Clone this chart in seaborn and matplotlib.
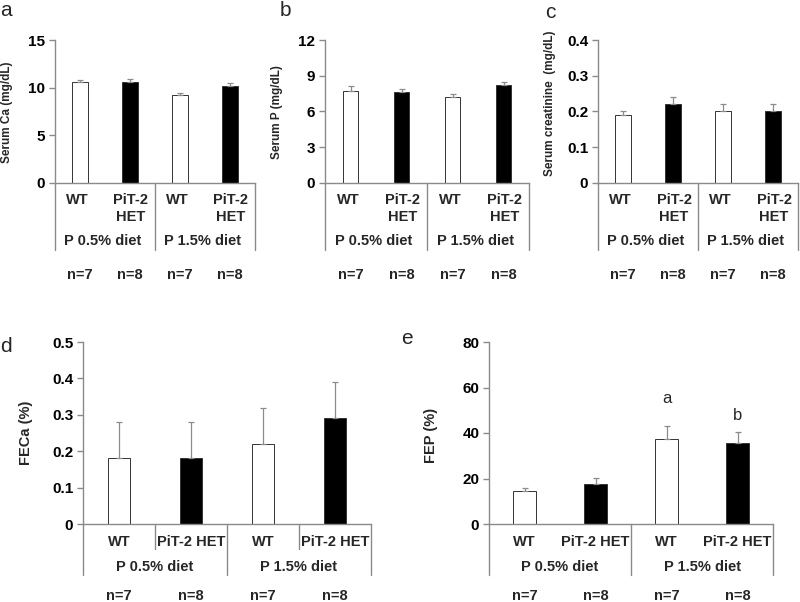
import numpy as np
import pandas as pd
import matplotlib
matplotlib.use("Agg")
import matplotlib.pyplot as plt
import matplotlib.transforms as mtransforms
import seaborn as sns

sns.set_theme(style="white")
plt.rcParams['font.family'] = ['Liberation Sans', 'DejaVu Sans']

# ---- data ----
genotypes = ["WT", "PiT-2 HET", "WT", "PiT-2 HET"]
diets = ["P 0.5% diet", "P 1.5% diet"]
n_labels = ["n=7", "n=8", "n=7", "n=8"]

ca_vals = [10.6, 10.6, 9.2, 10.2]
ca_errs = [0.2, 0.3, 0.2, 0.25]
p_vals = [7.7, 7.6, 7.2, 8.2]
p_errs = [0.4, 0.3, 0.3, 0.3]
cre_vals = [0.19, 0.22, 0.20, 0.20]
cre_errs = [0.01, 0.02, 0.02, 0.02]
feca_vals = [0.18, 0.18, 0.22, 0.29]
feca_errs = [0.10, 0.10, 0.10, 0.10]
fep_vals = [14.3, 17.5, 37.3, 35.7]
fep_errs = [1.6, 2.8, 5.9, 4.9]
fep_letters = ["", "", "a", "b"]
fep_letter_y = [0, 0, 55, 47.5]

W, H = 800, 602
fig = plt.figure(figsize=(W / 100, H / 100), dpi=100)
fig.patch.set_facecolor("white")

AX_GRAY = "#8a8a8a"
ERR_GRAY = "#8c8c8c"
fills = ["white", "black", "white", "black"]


def fy(py):
    return 1 - py / H


def panel(left, right, top, bottom, vals, errs, ylim, yticks, yticklabels,
          ylabel, ylabel_xy, ylabel_size, letter, letter_xy, row):
    ax = fig.add_axes([left / W, fy(bottom), (right - left) / W, (bottom - top) / H])
    ids = ["c0", "c1", "c2", "c3"]
    df = pd.DataFrame({"id": ids, "val": vals})
    sns.barplot(data=df, x="id", y="val", hue="id", palette=fills, legend=False,
                width=0.31, edgecolor="#333333", linewidth=0.7, ax=ax,
                order=ids, hue_order=ids)
    ax.errorbar(range(4), vals, yerr=[np.zeros(4), errs], fmt="none",
                ecolor=ERR_GRAY, elinewidth=0.9, capsize=2.5, capthick=0.9, zorder=1)
    ax.set_xlim(-0.5, 3.5)
    ax.set_ylim(*ylim)
    ax.set_yticks(yticks)
    ax.set_yticklabels(yticklabels, fontsize=11, fontweight="bold")
    ax.set_xticks([])
    ax.set_xlabel("")
    ax.set_ylabel(ylabel, fontsize=ylabel_size, fontweight="bold")
    ax.yaxis.set_label_coords(ylabel_xy[0] / W, fy(ylabel_xy[1]), transform=fig.transFigure)
    for s in ["top", "right"]:
        ax.spines[s].set_visible(False)
    for s in ["left", "bottom"]:
        ax.spines[s].set_color(AX_GRAY)
        ax.spines[s].set_linewidth(1.0)
    ax.tick_params(axis="y", direction="out", length=4, width=1.0, color=AX_GRAY,
                   left=True, pad=3, labelcolor="black")
    ax.set_facecolor("white")

    tr = mtransforms.blended_transform_factory(ax.transData, fig.transFigure)
    if row == 0:
        fs = 10.5
        for i, g in enumerate(genotypes):
            if g == "WT":
                ax.text(i - 0.05, fy(200), "WT", transform=tr, ha="center", va="center",
                        fontsize=fs, fontweight="bold")
            else:
                top_word, bottom_word = g.split(" ")
                ax.text(i + 0.02, fy(200), top_word, transform=tr, ha="center", va="center",
                        fontsize=fs, fontweight="bold")
                ax.text(i + 0.02, fy(217), bottom_word, transform=tr, ha="center",
                        va="center", fontsize=fs, fontweight="bold")
        for j, d in enumerate(diets):
            ax.text(0.45 + 2 * j, fy(241), d, transform=tr, ha="center", va="center",
                    fontsize=fs, fontweight="bold")
        for i, n in enumerate(n_labels):
            ax.text(i, fy(275), n, transform=tr, ha="center", va="center",
                    fontsize=fs, fontweight="bold")
        for xd in [-0.5, 1.5, 3.5]:
            ax.plot([xd, xd], [fy(bottom), fy(250)], transform=tr, color=AX_GRAY,
                    lw=1.0, clip_on=False)
    else:
        fs = 10.5
        for i, g in enumerate(genotypes):
            ax.text(i, fy(542), g, transform=tr, ha="center", va="center",
                    fontsize=fs, fontweight="bold")
        for j, d in enumerate(diets):
            ax.text(0.5 + 2 * j, fy(567), d, transform=tr, ha="center", va="center",
                    fontsize=fs, fontweight="bold")
        for i, n in enumerate(n_labels):
            ax.text(i, fy(596), n, transform=tr, ha="center", va="center",
                    fontsize=fs, fontweight="bold")
        for xd in [-0.5, 1.5, 3.5]:
            ax.plot([xd, xd], [fy(bottom), fy(575)], transform=tr, color=AX_GRAY,
                    lw=1.0, clip_on=False)
    fig.text(letter_xy[0] / W, fy(letter_xy[1]), letter, fontsize=15,
             ha="left", va="center")
    return ax, tr


panel(55, 255, 40, 183, ca_vals, ca_errs, (0, 15), [0, 5, 10, 15],
      ["0", "5", "10", "15"], "Serum Ca (mg/dL)", (13, 112), 8.5, "a", (0, 11), 0)
panel(325, 529, 40, 183, p_vals, p_errs, (0, 12), [0, 3, 6, 9, 12],
      ["0", "3", "6", "9", "12"], "Serum P (mg/dL)", (283, 112), 8.5, "b", (280, 10), 0)
panel(598, 798, 40, 183, cre_vals, cre_errs, (0, 0.4), [0, 0.1, 0.2, 0.3, 0.4],
      ["0", "0.1", "0.2", "0.3", "0.4"], "Serum creatinine  (mg/dL)", (556, 103), 8.5,
      "c", (545, 12), 0)
axd, trd = panel(83, 371, 342, 524, feca_vals, feca_errs, (0, 0.5),
                 [0, 0.1, 0.2, 0.3, 0.4, 0.5],
                 ["0", "0.1", "0.2", "0.3", "0.4", "0.5"], "FECa (%)", (33, 433), 10.5,
                 "d", (0, 347), 1)
for xd in [0.5, 2.5]:
    axd.plot([xd, xd], [fy(524), fy(549)], transform=trd, color=AX_GRAY,
             lw=1.0, clip_on=False)
axe, tre = panel(489, 773, 342, 524, fep_vals, fep_errs, (0, 80), [0, 20, 40, 60, 80],
                 ["0", "20", "40", "60", "80"], "FEP (%)", (438, 435), 10.5,
                 "e", (401, 338), 1)
for i, (lt, ly) in enumerate(zip(fep_letters, fep_letter_y)):
    if lt:
        axe.text(i, ly, lt, ha="center", va="center", fontsize=12)

fig.savefig("out.png", dpi=100, facecolor="white")
